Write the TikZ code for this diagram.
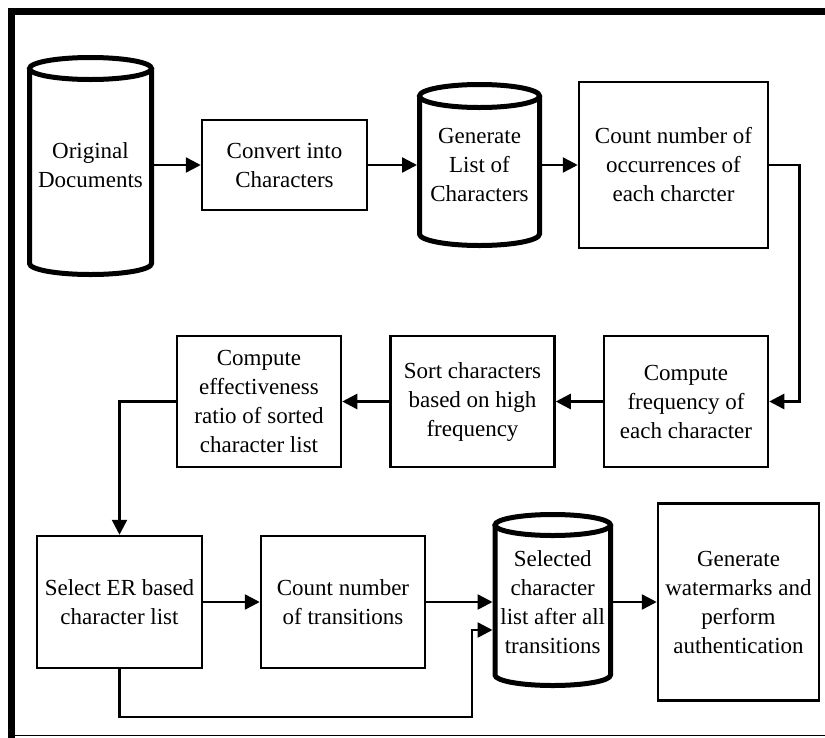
\documentclass[tikz,border=0pt]{standalone}
\usepackage{fontspec}
\setmainfont{Liberation Serif}
\usetikzlibrary{arrows.meta}
% #1 centre x, #2 top ellipse centre y, #3 bottom ellipse centre y, #4 x radius, #5 y radius
\newcommand\mycyl[5]{%
  \draw[cylline] ({#1-#4},#2) -- ({#1-#4},#3) arc[start angle=180,end angle=360,x radius=#4pt,y radius=#5pt] -- ({#1+#4},#2);
  \draw[cylline] (#1,#2) ellipse[x radius=#4pt,y radius=#5pt];}
\begin{document}
\begin{tikzpicture}[x=1pt,y=-1pt,
  txt/.style={align=center,font=\fontsize{23}{29}\selectfont,inner sep=0pt},
  box/.style={txt,draw,line width=2.5pt},
  cylnode/.style={txt,outer sep=0pt},
  cylline/.style={line width=5pt},
  conn/.style={line width=2.5pt},
  arr/.style={conn,-{Triangle[length=15pt,width=15pt]}}]
\useasboundingbox (0,0) rectangle (825,737);
\fill[white] (0,0) rectangle (825,737);
% frame
\draw[line width=7pt,line join=miter] (11.5,740) -- (11.5,11.5) -- (830,11.5);
\draw[line width=1.5pt] (11.5,735.5) -- (830,735.5);
% cylinders
\mycyl{90.5}{68.5}{263.5}{61}{11}
\mycyl{479.5}{96}{234}{60}{11.5}
\mycyl{552.75}{525}{675}{57.75}{10.5}
% nodes
\node[cylnode,minimum width=127pt,minimum height=150pt] (orig) at (90.5,165) {Original\\Documents};
\node[box,minimum width=165pt,minimum height=90pt] (conv) at (284.5,165) {Convert into\\Characters};
\node[cylnode,minimum width=125pt,minimum height=120pt] (list) at (479.5,165) {Generate\\List of\\Characters};
\node[box,minimum width=189pt,minimum height=166pt] (occ) at (673.5,165) {Count number of\\occurrences of\\each charcter};
\node[box,minimum width=164pt,minimum height=131pt] (freq) at (686,401.5) {Compute\\frequency of\\each character};
\node[box,minimum width=164pt,minimum height=131pt] (sort) at (472.5,401.5) {Sort characters\\based on high\\frequency};
\node[box,minimum width=164pt,minimum height=131pt] (eff) at (259,401.5) {Compute\\effectiveness\\ratio of sorted\\character list};
\node[box,minimum width=165pt,minimum height=132pt] (sel) at (119.5,602) {Select ER based\\character list};
\node[box,minimum width=164pt,minimum height=132pt] (cnt) at (343,602) {Count number\\of transitions};
\node[cylnode,minimum width=120.5pt,minimum height=120pt] (scl) at (552.75,602) {Selected\\character\\list after all\\transitions};
\node[box,minimum width=161pt,minimum height=197pt] (wm) at (738.5,602) {Generate\\watermarks and\\perform\\authentication};
% connectors
\draw[arr] (orig) -- (conv);
\draw[arr] (conv) -- (list);
\draw[arr] (list) -- (occ);
\draw[arr] (occ.east) -- ++(30,0) |- (freq.east);
\draw[arr] (freq) -- (sort);
\draw[arr] (sort) -- (eff);
\draw[arr] (eff.west) -| (sel.north);
\draw[arr] (sel) -- (cnt);
\draw[arr] (cnt) -- (scl);
\draw[arr] (scl) -- (wm);
\coordinate (c1) at (472,717);
\draw[arr] (sel.south) |- (c1) |- ([yshift=-28pt]scl.west);
\end{tikzpicture}
\end{document}
